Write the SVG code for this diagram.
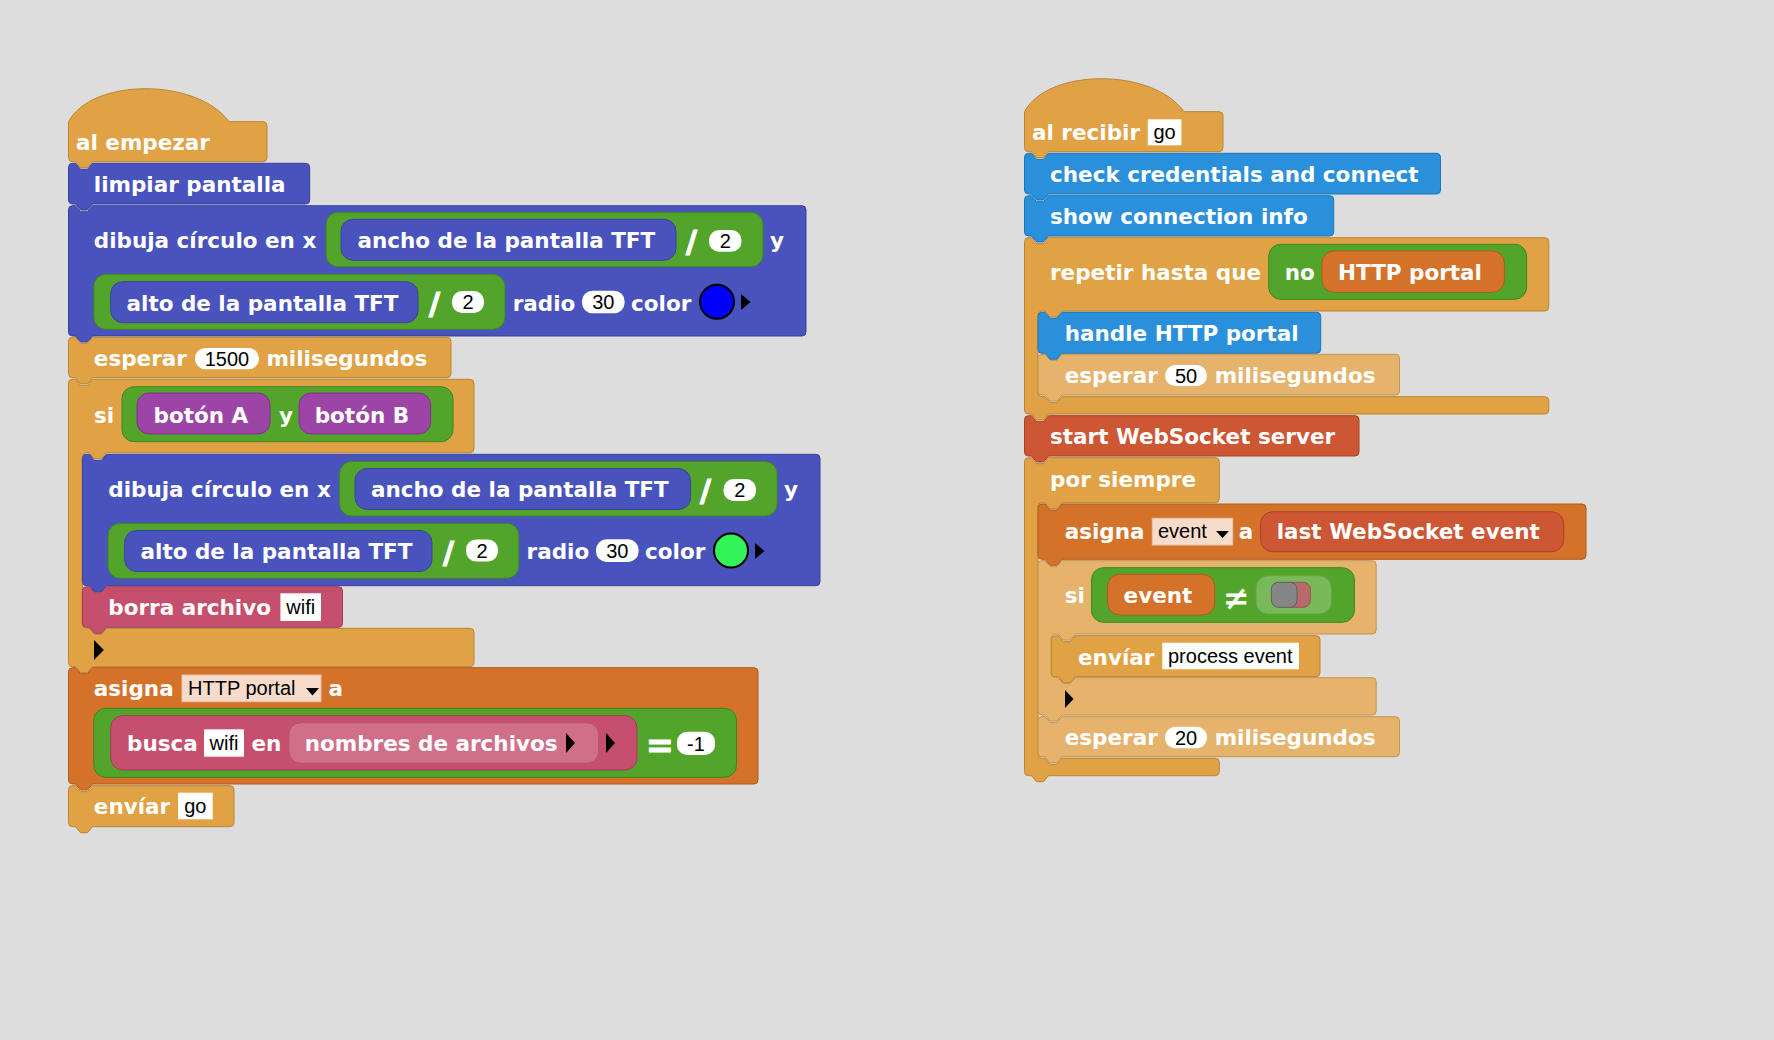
<svg xmlns="http://www.w3.org/2000/svg" width="1774" height="1040" viewBox="0 0 1774 1040">
<style>
.t{font-family:"DejaVu Sans","Liberation Sans",sans-serif;font-weight:bold;font-size:21.5px;fill:#fff}
.op{font-family:"DejaVu Sans","Liberation Sans",sans-serif;font-weight:bold;fill:#fff;stroke:#fff;stroke-width:1.2}
.ne{font-family:"DejaVu Sans","Liberation Sans",sans-serif;font-weight:bold;fill:#fff}
.v{font-family:"Liberation Sans",Arial,sans-serif;font-size:20px;fill:#000}
.vc{font-family:"Liberation Sans",Arial,sans-serif;font-size:20px;fill:#000;text-anchor:middle}
.ctrl{fill:#e0a244;stroke:#bb8532;stroke-width:1}
.ctrl2{fill:#e5b36c;stroke:#c4934f;stroke-width:1}
.tft{fill:#4953bd;stroke:#3a4399;stroke-width:1}
.grn{fill:#53a42b;stroke:#3f8520;stroke-width:1}
.pur{fill:#9d45a6;stroke:#7d3385;stroke-width:1}
.pnk{fill:#c64f6e;stroke:#a23a57;stroke-width:1}
.pnk2{fill:#d16f89;stroke:#b0566f;stroke-width:1}
.var{fill:#d5722a;stroke:#b05a1c;stroke-width:1}
.ws{fill:#cd5635;stroke:#a84026;stroke-width:1}
.lib{fill:#2a90db;stroke:#1f74b5;stroke-width:1}
.wv{fill:#fff}
.dd{fill:#f8dccb;stroke:#e6c3ad;stroke-width:1}
.tri{fill:#000}
</style>
<rect width="1774" height="1040" fill="#dddddd"/>

<!-- LEFT SCRIPT -->
<g id="hat-al-empezar">
<path class="ctrl" d="M68.5,121.7 C92,77.7 197,77.7 229,121.7 H263 Q267,121.7 267,125.7 V157.7 Q267,161.7 263,161.7 H92.5 L87.5,167.7 H80.5 L75.5,161.7 H72.5 Q68.5,161.7 68.5,157.7 Z"/>
<text class="t" x="76" y="150">al empezar</text>
</g>

<g id="limpiar-pantalla">
<path class="tft" d="M68.5,167.3 Q68.5,163.3 72.5,163.3 H75.5 L80.5,169.3 H87.5 L92.5,163.3 H305.7 Q309.7,163.3 309.7,167.3 V200 Q309.7,204 305.7,204 H92.5 L87.5,210 H80.5 L75.5,204 H72.5 Q68.5,204 68.5,200 Z"/>
<text class="t" x="93.8" y="191.7">limpiar pantalla</text>
</g>

<g id="dibuja-circulo-1">
<path class="tft" d="M68.5,209.7 Q68.5,205.7 72.5,205.7 H75.5 L80.5,211.7 H87.5 L92.5,205.7 H802 Q806,205.7 806,209.7 V332 Q806,336 802,336 H92.5 L87.5,342 H80.5 L75.5,336 H72.5 Q68.5,336 68.5,332 Z"/>
<text class="t" x="93.8" y="248.3">dibuja círculo en x</text>
<rect class="grn" x="326" y="212.3" width="437" height="54.4" rx="12"/>
<rect class="tft" x="341" y="219.3" width="335" height="41" rx="12"/>
<text class="t" x="357.5" y="248.3">ancho de la pantalla TFT</text>
<text class="op" x="686" y="251.5" font-size="30">/</text>
<rect class="wv" x="709" y="230" width="32.5" height="21.7" rx="10"/>
<text class="vc" x="725.2" y="248">2</text>
<text class="t" x="770" y="248.3">y</text>
<rect class="grn" x="93.8" y="274.3" width="411.2" height="55" rx="12"/>
<rect class="tft" x="110.7" y="281.7" width="307.3" height="41" rx="12"/>
<text class="t" x="126.5" y="310.7">alto de la pantalla TFT</text>
<text class="op" x="429" y="313.7" font-size="30">/</text>
<rect class="wv" x="452" y="291" width="32" height="22" rx="10"/>
<text class="vc" x="468" y="309">2</text>
<text class="t" x="512.7" y="310.7">radio</text>
<rect class="wv" x="582" y="290.7" width="42.6" height="22.6" rx="10.5"/>
<text class="vc" x="603.3" y="309">30</text>
<text class="t" x="631" y="310.7">color</text>
<circle cx="717" cy="301.7" r="17" fill="#0000ff" stroke="#000" stroke-width="2"/>
<polygon class="tri" points="741,294 750.5,302 741,310"/>
</g>

<g id="esperar-1500">
<path class="ctrl" d="M68.5,341.3 Q68.5,337.3 72.5,337.3 H75.5 L80.5,343.3 H87.5 L92.5,337.3 H447 Q451,337.3 451,341.3 V373.7 Q451,377.7 447,377.7 H92.5 L87.5,383.7 H80.5 L75.5,377.7 H72.5 Q68.5,377.7 68.5,373.7 Z"/>
<text class="t" x="93.8" y="366">esperar</text>
<rect class="wv" x="195" y="348" width="64" height="21.3" rx="10.6"/>
<text class="vc" x="227" y="365.7">1500</text>
<text class="t" x="266.4" y="366">milisegundos</text>
</g>

<g id="si-botones">
<path class="ctrl" d="M68.5,383.3 Q68.5,379.3 72.5,379.3 H75.5 L80.5,385.3 H87.5 L92.5,379.3 H470 Q474,379.3 474,383.3 V448.7 Q474,452.7 470,452.7 H106.4 L101.4,458.7 H94.4 L89.4,452.7 H86.4 Q82.4,452.7 82.4,456.7 V624.3 Q82.4,628.3 86.4,628.3 H89.4 L94.4,634.3 H101.4 L106.4,628.3 H470 Q474,628.3 474,632.3 V662.7 Q474,666.7 470,666.7 H92.5 L87.5,672.7 H80.5 L75.5,666.7 H72.5 Q68.5,666.7 68.5,662.7 Z"/>
<text class="t" x="94" y="422.7">si</text>
<rect class="grn" x="122" y="386.7" width="331" height="55" rx="12"/>
<rect class="pur" x="137" y="393" width="133" height="41" rx="12"/>
<text class="t" x="153.5" y="422.5">botón A</text>
<text class="t" x="279" y="422.5">y</text>
<rect class="pur" x="299" y="393" width="131.6" height="41" rx="12"/>
<text class="t" x="314.7" y="422.5">botón B</text>
<polygon class="tri" points="94,640 103.8,650 94,660"/>
</g>

<g id="dibuja-circulo-2">
<path class="tft" d="M82.4,458.3 Q82.4,454.3 86.4,454.3 H89.4 L94.4,460.3 H101.4 L106.4,454.3 H816 Q820,454.3 820,458.3 V581.7 Q820,585.7 816,585.7 H106.4 L101.4,591.7 H94.4 L89.4,585.7 H86.4 Q82.4,585.7 82.4,581.7 Z"/>
<text class="t" x="108.3" y="497.3">dibuja círculo en x</text>
<rect class="grn" x="339.6" y="461.5" width="437.5" height="54.5" rx="12"/>
<rect class="tft" x="355" y="468.5" width="335.5" height="41" rx="12"/>
<text class="t" x="371" y="497.3">ancho de la pantalla TFT</text>
<text class="op" x="700" y="500.5" font-size="30">/</text>
<rect class="wv" x="723.5" y="479" width="32.5" height="22" rx="10"/>
<text class="vc" x="739.8" y="497">2</text>
<text class="t" x="784" y="497.3">y</text>
<rect class="grn" x="108" y="523.3" width="410.8" height="55" rx="12"/>
<rect class="tft" x="124.6" y="530.5" width="307.4" height="41" rx="12"/>
<text class="t" x="140.5" y="559.3">alto de la pantalla TFT</text>
<text class="op" x="443" y="562.5" font-size="30">/</text>
<rect class="wv" x="466" y="539.5" width="32" height="22" rx="10"/>
<text class="vc" x="482" y="557.5">2</text>
<text class="t" x="526.6" y="559.3">radio</text>
<rect class="wv" x="596" y="539.3" width="42.6" height="22.6" rx="10.5"/>
<text class="vc" x="617.3" y="557.5">30</text>
<text class="t" x="645" y="559.3">color</text>
<circle cx="731" cy="550.5" r="17" fill="#33f55a" stroke="#000" stroke-width="2"/>
<polygon class="tri" points="755,543 764.5,551 755,559"/>
</g>

<g id="borra-archivo">
<path class="pnk" d="M82.4,590.7 Q82.4,586.7 86.4,586.7 H89.4 L94.4,592.7 H101.4 L106.4,586.7 H338.5 Q342.5,586.7 342.5,590.7 V623.3 Q342.5,627.3 338.5,627.3 H106.4 L101.4,633.3 H94.4 L89.4,627.3 H86.4 Q82.4,627.3 82.4,623.3 Z"/>
<text class="t" x="108.3" y="615.3">borra archivo</text>
<rect class="wv" x="280.4" y="593.3" width="40.6" height="27.7"/>
<text class="vc" x="300.7" y="613.5">wifi</text>
</g>

<g id="asigna-http-portal">
<path class="var" d="M68.5,671.7 Q68.5,667.7 72.5,667.7 H75.5 L80.5,673.7 H87.5 L92.5,667.7 H754 Q758,667.7 758,671.7 V780 Q758,784 754,784 H92.5 L87.5,790 H80.5 L75.5,784 H72.5 Q68.5,784 68.5,780 Z"/>
<text class="t" x="93.8" y="696">asigna</text>
<rect class="dd" x="182" y="675" width="139" height="26.7"/>
<text class="v" x="188" y="694.5">HTTP portal</text>
<polygon class="tri" points="306,688 319,688 312.5,695.5"/>
<text class="t" x="328.6" y="696">a</text>
<rect class="grn" x="93.8" y="708.3" width="642.7" height="69" rx="12"/>
<rect class="pnk" x="110.7" y="715.7" width="526.3" height="54.3" rx="12"/>
<text class="t" x="127" y="751">busca</text>
<rect class="wv" x="204" y="729.3" width="40" height="27.4"/>
<text class="vc" x="224" y="749.5">wifi</text>
<text class="t" x="251.5" y="751">en</text>
<rect class="pnk2" x="288.8" y="722.7" width="309.9" height="40.6" rx="12"/>
<text class="t" x="304.7" y="751">nombres de archivos</text>
<polygon class="tri" points="566,733 575,743 566,753"/>
<polygon class="tri" points="606,733 615,743 606,753"/>
<text class="op" x="646" y="757" font-size="33">=</text>
<rect class="wv" x="677" y="731.7" width="38" height="23.3" rx="10"/>
<text class="vc" x="696" y="750.5">-1</text>
</g>

<g id="enviar-go">
<path class="ctrl" d="M68.5,789.7 Q68.5,785.7 72.5,785.7 H75.5 L80.5,791.7 H87.5 L92.5,785.7 H230 Q234,785.7 234,789.7 V822.7 Q234,826.7 230,826.7 H92.5 L87.5,832.7 H80.5 L75.5,826.7 H72.5 Q68.5,826.7 68.5,822.7 Z"/>
<text class="t" x="93.8" y="814">envíar</text>
<rect class="wv" x="178" y="792.7" width="34.7" height="26.6"/>
<text class="vc" x="195.3" y="812.5">go</text>
</g>

<!-- RIGHT SCRIPT -->
<g id="hat-al-recibir">
<path class="ctrl" d="M1024.5,111.7 C1048,67.7 1153,67.7 1184,111.7 H1219 Q1223,111.7 1223,115.7 V147.7 Q1223,151.7 1219,151.7 H1048.5 L1043.5,157.7 H1036.5 L1031.5,151.7 H1028.5 Q1024.5,151.7 1024.5,147.7 Z"/>
<text class="t" x="1032" y="140">al recibir</text>
<rect class="wv" x="1147.8" y="119.3" width="33.6" height="26"/>
<text class="vc" x="1164.6" y="139">go</text>
</g>

<g id="check-credentials">
<path class="lib" d="M1024.5,157.3 Q1024.5,153.3 1028.5,153.3 H1031.5 L1036.5,159.3 H1043.5 L1048.5,153.3 H1436.5 Q1440.5,153.3 1440.5,157.3 V190 Q1440.5,194 1436.5,194 H1048.5 L1043.5,200 H1036.5 L1031.5,194 H1028.5 Q1024.5,194 1024.5,190 Z"/>
<text class="t" x="1050" y="181.7">check credentials and connect</text>
</g>

<g id="show-connection-info">
<path class="lib" d="M1024.5,199.7 Q1024.5,195.7 1028.5,195.7 H1031.5 L1036.5,201.7 H1043.5 L1048.5,195.7 H1329.7 Q1333.7,195.7 1333.7,199.7 V232 Q1333.7,236 1329.7,236 H1048.5 L1043.5,242 H1036.5 L1031.5,236 H1028.5 Q1024.5,236 1024.5,232 Z"/>
<text class="t" x="1050" y="224">show connection info</text>
</g>

<g id="repetir-hasta-que">
<path class="ctrl" d="M1024.5,241.7 Q1024.5,237.7 1028.5,237.7 H1031.5 L1036.5,243.7 H1043.5 L1048.5,237.7 H1544.8 Q1548.8,237.7 1548.8,241.7 V307 Q1548.8,311 1544.8,311 H1062 L1057,317 H1050 L1045,311 H1042 Q1038,311 1038,315 V392.7 Q1038,396.7 1042,396.7 H1045 L1050,402.7 H1057 L1062,396.7 H1544.8 Q1548.8,396.7 1548.8,400.7 V410 Q1548.8,414 1544.8,414 H1048.5 L1043.5,420 H1036.5 L1031.5,414 H1028.5 Q1024.5,414 1024.5,410 Z"/>
<text class="t" x="1050" y="280">repetir hasta que</text>
<rect class="grn" x="1268.7" y="244.3" width="257.9" height="55" rx="12"/>
<text class="t" x="1284.7" y="280">no</text>
<rect class="var" x="1321.9" y="251" width="182.5" height="41.3" rx="12"/>
<text class="t" x="1338" y="280">HTTP portal</text>
</g>

<g id="handle-http-portal">
<path class="lib" d="M1038,316.3 Q1038,312.3 1042,312.3 H1045 L1050,318.3 H1057 L1062,312.3 H1316.7 Q1320.7,312.3 1320.7,316.3 V349.3 Q1320.7,353.3 1316.7,353.3 H1062 L1057,359.3 H1050 L1045,353.3 H1042 Q1038,353.3 1038,349.3 Z"/>
<text class="t" x="1064.7" y="341">handle HTTP portal</text>
</g>

<g id="esperar-50">
<path class="ctrl2" d="M1038,358.3 Q1038,354.3 1042,354.3 H1045 L1050,360.3 H1057 L1062,354.3 H1395.5 Q1399.5,354.3 1399.5,358.3 V391 Q1399.5,395 1395.5,395 H1062 L1057,401 H1050 L1045,395 H1042 Q1038,395 1038,391 Z"/>
<text class="t" x="1064.7" y="383">esperar</text>
<rect class="wv" x="1165" y="365" width="42" height="21" rx="10.5"/>
<text class="vc" x="1186" y="382.5">50</text>
<text class="t" x="1214.7" y="383">milisegundos</text>
</g>

<g id="start-websocket-server">
<path class="ws" d="M1024.5,419.7 Q1024.5,415.7 1028.5,415.7 H1031.5 L1036.5,421.7 H1043.5 L1048.5,415.7 H1355 Q1359,415.7 1359,419.7 V452 Q1359,456 1355,456 H1048.5 L1043.5,462 H1036.5 L1031.5,456 H1028.5 Q1024.5,456 1024.5,452 Z"/>
<text class="t" x="1050" y="444">start WebSocket server</text>
</g>

<g id="por-siempre">
<path class="ctrl" d="M1024.5,461.7 Q1024.5,457.7 1028.5,457.7 H1031.5 L1036.5,463.7 H1043.5 L1048.5,457.7 H1215.3 Q1219.3,457.7 1219.3,461.7 V498.7 Q1219.3,502.7 1215.3,502.7 H1062 L1057,508.7 H1050 L1045,502.7 H1042 Q1038,502.7 1038,506.7 V754.3 Q1038,758.3 1042,758.3 H1045 L1050,764.3 H1057 L1062,758.3 H1215.3 Q1219.3,758.3 1219.3,762.3 V771.7 Q1219.3,775.7 1215.3,775.7 H1048.5 L1043.5,781.7 H1036.5 L1031.5,775.7 H1028.5 Q1024.5,775.7 1024.5,771.7 Z"/>
<text class="t" x="1050" y="486.7">por siempre</text>
</g>

<g id="asigna-event">
<path class="var" d="M1038,508 Q1038,504 1042,504 H1045 L1050,510 H1057 L1062,504 H1582 Q1586,504 1586,508 V555.3 Q1586,559.3 1582,559.3 H1062 L1057,565.3 H1050 L1045,559.3 H1042 Q1038,559.3 1038,555.3 Z"/>
<text class="t" x="1064.7" y="539.3">asigna</text>
<rect class="dd" x="1152.3" y="518.3" width="80.4" height="26.7"/>
<text class="v" x="1158" y="538">event</text>
<polygon class="tri" points="1216,531 1229,531 1222.5,538"/>
<text class="t" x="1238.8" y="539.3">a</text>
<rect class="ws" x="1260.6" y="511.7" width="303.1" height="40" rx="12"/>
<text class="t" x="1276.7" y="539.3">last WebSocket event</text>
</g>

<g id="si-event">
<path class="ctrl2" d="M1038,564.7 Q1038,560.7 1042,560.7 H1045 L1050,566.7 H1057 L1062,560.7 H1372.2 Q1376.2,560.7 1376.2,564.7 V630 Q1376.2,634 1372.2,634 H1075.3 L1070.3,640 H1063.3 L1058.3,634 H1055.3 Q1051.3,634 1051.3,638 V673.7 Q1051.3,677.7 1055.3,677.7 H1058.3 L1063.3,683.7 H1070.3 L1075.3,677.7 H1372.2 Q1376.2,677.7 1376.2,681.7 V711 Q1376.2,715 1372.2,715 H1062 L1057,721 H1050 L1045,715 H1042 Q1038,715 1038,711 Z"/>
<text class="t" x="1064.7" y="603.3">si</text>
<rect class="grn" x="1091.5" y="567.7" width="262.9" height="54.6" rx="12"/>
<rect class="var" x="1107.6" y="574.3" width="107.1" height="40.7" rx="12"/>
<text class="t" x="1123.6" y="603">event</text>
<text class="ne" x="1223" y="608.5" font-size="32">≠</text>
<rect x="1256" y="575.7" width="75.4" height="38.3" rx="12" fill="#79b95a" stroke="#65a446" stroke-width="1"/>
<rect x="1283.6" y="582.3" width="26.8" height="25" rx="7" fill="#b86a6a" stroke="#9a5555" stroke-width="1"/>
<rect x="1271.4" y="582.3" width="25.6" height="25" rx="7" fill="#868686" stroke="#5e5e5e" stroke-width="1"/>
<polygon class="tri" points="1065,690 1073.5,699 1065,708"/>
</g>

<g id="enviar-process-event">
<path class="ctrl" d="M1051.3,639.7 Q1051.3,635.7 1055.3,635.7 H1058.3 L1063.3,641.7 H1070.3 L1075.3,635.7 H1316 Q1320,635.7 1320,639.7 V672.7 Q1320,676.7 1316,676.7 H1075.3 L1070.3,682.7 H1063.3 L1058.3,676.7 H1055.3 Q1051.3,676.7 1051.3,672.7 Z"/>
<text class="t" x="1078" y="664.5">envíar</text>
<rect class="wv" x="1162.3" y="642.7" width="136.7" height="26.6"/>
<text class="v" x="1168" y="663">process event</text>
</g>

<g id="esperar-20">
<path class="ctrl2" d="M1038,720.7 Q1038,716.7 1042,716.7 H1045 L1050,722.7 H1057 L1062,716.7 H1395.5 Q1399.5,716.7 1399.5,720.7 V752.7 Q1399.5,756.7 1395.5,756.7 H1062 L1057,762.7 H1050 L1045,756.7 H1042 Q1038,756.7 1038,752.7 Z"/>
<text class="t" x="1064.7" y="745">esperar</text>
<rect class="wv" x="1165" y="726.7" width="42" height="21.6" rx="10.8"/>
<text class="vc" x="1186" y="744.5">20</text>
<text class="t" x="1214.7" y="745">milisegundos</text>
</g>

<g id="connectors"></g>
</svg>
